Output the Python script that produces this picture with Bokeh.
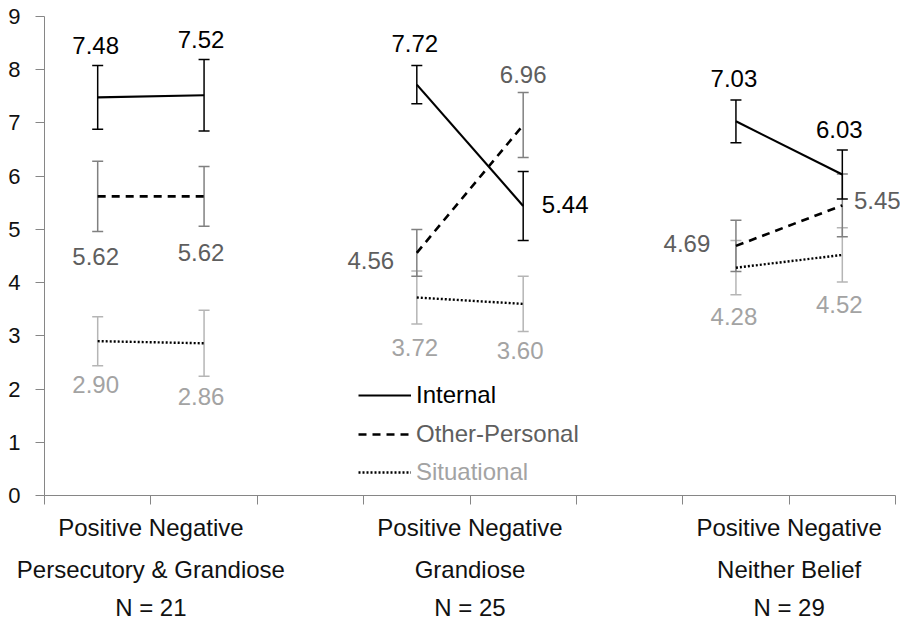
from bokeh.plotting import figure
from bokeh.models import (ColumnDataSource, Range1d, FixedTicker, LinearAxis,
                          Whisker, TeeHead, Legend, LegendItem)
from bokeh.core.properties import value
from bokeh.embed import file_html
from bokeh.resources import INLINE

# ---------------- data ----------------
groups = ["Persecutory & Grandiose", "Grandiose", "Neither Belief"]
group_n = ["N = 21", "N = 25", "N = 29"]
conditions = ["Positive", "Negative"]
series = ["Internal", "Other-Personal", "Situational"]

# values per (group, condition): P1, N1, P2, N2, P3, N3
internal = [7.48, 7.52, 7.72, 5.44, 7.03, 6.03]
other_personal = [5.62, 5.62, 4.56, 6.96, 4.69, 5.45]
situational = [2.90, 2.86, 3.72, 3.60, 4.28, 4.52]

internal_err = [0.60, 0.67, 0.36, 0.65, 0.40, 0.46]
other_personal_err = [0.66, 0.56, 0.44, 0.61, 0.48, 0.59]
situational_err = [0.46, 0.62, 0.50, 0.52, 0.51, 0.51]

y_ticks = [0, 1, 2, 3, 4, 5, 6, 7, 8, 9]

# ---------------- styles ----------------
FONT = "Liberation Sans"
AXIS_GRAY = "#868686"
styles = {
    "Internal": dict(line="black", dash="solid", lw=2.2, err="#000000", lab="#000000"),
    "Other-Personal": dict(line="black", dash="8 6", lw=2.6, err="#808080", lab="#5e5e5e"),
    "Situational": dict(line="black", dash="2 2", lw=2.4, err="#b5b5b5", lab="#a3a3a3"),
}
# label offsets (screen px, relative to point)
label_offsets = {
    "Internal": [(-2, -52), (-3, -56), (-2, -41), (42, -1), (-2, -43), (-3, -45)],
    "Other-Personal": [(-2, 60), (-3, 56), (-46, 8), (0, -51), (-49, -2), (35, -5)],
    "Situational": [(-2, 43), (-3, 53), (-2, 50), (-3, 47), (-2, 49), (-3, 50)],
}
legend_pos = {"Internal": (314, 86), "Other-Personal": (314, 47), "Situational": (314, 9)}

# x layout: each group occupies 3 category slots (2 conditions + gap)
slot = len(conditions) + 1
xs = [g * slot + c + 0.5 for g in range(len(groups)) for c in range(len(conditions))]
n_slots = slot * len(groups) - 1

p = figure(width=900, height=623, output_backend="svg", toolbar_location=None,
           x_range=Range1d(0, n_slots * 856 / 851), y_range=Range1d(0, 9),
           min_border_left=44, min_border_top=16, min_border_right=0, min_border_bottom=0)
p.xgrid.visible = False
p.ygrid.visible = False
p.outline_line_color = None
p.background_fill_color = "white"

# y axis
ya = p.yaxis[0]
ya.ticker = FixedTicker(ticks=y_ticks)
ya.bounds = (0, 9)
ya.axis_line_color = AXIS_GRAY
ya.major_tick_line_color = AXIS_GRAY
ya.major_tick_out = 9
ya.major_tick_in = 0
ya.minor_tick_line_color = None
ya.major_label_standoff = 15
ya.major_label_text_font = FONT
ya.major_label_text_font_size = "22px"
ya.major_label_text_color = "#111111"

# x axis (slots boundaries, group condition labels)
xa = p.xaxis[0]
xa.ticker = FixedTicker(ticks=list(range(n_slots + 1)))
xa.bounds = (0, n_slots)
mids = [g * slot + 1 for g in range(len(groups))]
overrides = {t: "" for t in range(n_slots + 1)}
for m in mids:
    overrides[m] = " ".join(conditions)
xa.major_label_overrides = overrides
xa.axis_line_color = AXIS_GRAY
xa.major_tick_line_color = AXIS_GRAY
xa.major_tick_out = 9
xa.major_tick_in = 0
xa.minor_tick_line_color = None
xa.major_label_standoff = 9
xa.major_label_text_font = FONT
xa.major_label_text_font_size = "24px"
xa.major_label_text_color = "#111111"

for labels, standoff in [(groups, 12), (group_n, 8)]:
    ax = LinearAxis(ticker=FixedTicker(ticks=mids),
                    major_label_overrides={m: l for m, l in zip(mids, labels)})
    ax.axis_line_color = None
    ax.major_tick_line_color = None
    ax.minor_tick_line_color = None
    ax.major_tick_out = 0
    ax.major_tick_in = 0
    ax.major_label_standoff = standoff
    ax.major_label_text_font = FONT
    ax.major_label_text_font_size = "24px"
    ax.major_label_text_color = "#111111"
    p.add_layout(ax, "below")

data = {"Internal": (internal, internal_err),
        "Other-Personal": (other_personal, other_personal_err),
        "Situational": (situational, situational_err)}

order = ["Situational", "Other-Personal", "Internal"]
line_renderers = {}
for name in order:
    vals, errs = data[name]
    st = styles[name]
    src = ColumnDataSource(dict(x=xs, y=vals,
                                upper=[v + e for v, e in zip(vals, errs)],
                                lower=[v - e for v, e in zip(vals, errs)]))
    w = Whisker(source=src, base="x", upper="upper", lower="lower", dimension="height",
                line_color=st["err"], line_width=1.5,
                upper_head=TeeHead(size=11, line_color=st["err"], line_width=1.5),
                lower_head=TeeHead(size=11, line_color=st["err"], line_width=1.5))
    p.add_layout(w)

for name in order:
    vals, errs = data[name]
    st = styles[name]
    mxs = [[xs[2 * g], xs[2 * g + 1]] for g in range(len(groups))]
    mys = [[vals[2 * g], vals[2 * g + 1]] for g in range(len(groups))]
    r = p.multi_line(xs=mxs, ys=mys, line_color=st["line"], line_width=st["lw"],
                     line_dash=st["dash"])
    line_renderers[name] = r

for name in order:
    vals, errs = data[name]
    st = styles[name]
    offs = label_offsets[name]
    lsrc = ColumnDataSource(dict(x=xs, y=vals, text=[f"{v:.2f}" for v in vals],
                                 dx=[o[0] for o in offs], dy=[o[1] for o in offs]))
    p.text(x="x", y="y", text="text", x_offset="dx", y_offset="dy", source=lsrc,
           text_align="center", text_baseline="middle",
           text_font=value(FONT), text_font_size="24px", text_color=st["lab"])

for name in series:
    st = styles[name]
    leg = Legend(items=[LegendItem(label=name, renderers=[line_renderers[name]])],
                 location=legend_pos[name], orientation="vertical",
                 background_fill_alpha=0, border_line_color=None,
                 padding=0, margin=0, spacing=0,
                 glyph_width=53, glyph_height=22, label_standoff=5,
                 label_text_font=FONT, label_text_font_size="24px",
                 label_text_color=st["lab"])
    p.add_layout(leg)

open("out.html", "w").write(file_html(p, INLINE))
